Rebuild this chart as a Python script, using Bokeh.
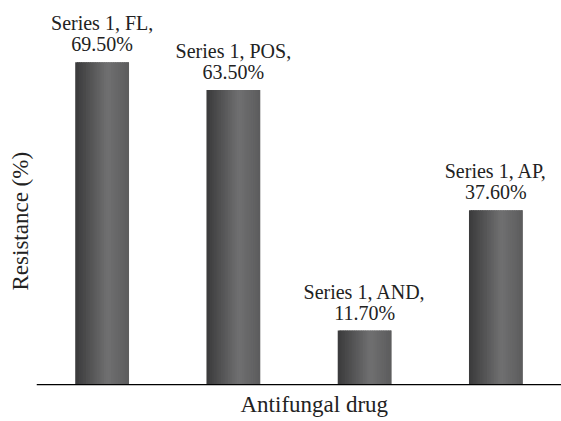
from bokeh.plotting import figure
from bokeh.models import ColumnDataSource, FactorRange, Range1d, LabelSet, Span, Title
from bokeh.transform import dodge
from bokeh.embed import file_html
from bokeh.resources import INLINE

drugs = ["FL", "POS", "AND", "AP"]
resistance = [69.5, 63.5, 11.7, 37.6]
series_name = "Series 1"

line1 = [f"{series_name}, {d}," for d in drugs]
line2 = [f"{v:.2f}%" for v in resistance]
source = ColumnDataSource(data=dict(drug=drugs, val=resistance, l1=line1, l2=line2))

FONT = "Liberation Serif"
TXT = "#222222"

p = figure(
    width=561, height=421,
    x_range=FactorRange(*drugs),
    y_range=Range1d(-0.15, 82.8),
    output_backend="svg", toolbar_location=None,
    min_border_left=36, min_border_right=0,
    min_border_top=0, min_border_bottom=34,
)
p.outline_line_color = None
p.xgrid.visible = False
p.ygrid.visible = False
p.xaxis.visible = False
p.yaxis.visible = False
p.background_fill_color = "white"
p.border_fill_color = "white"

# gradient bars built from narrow strips
bar_w = 0.41
n = 30
def shade(t):
    if t < 0.6:
        g = 0x3a + (0x70 - 0x3a) * (t / 0.6)
    else:
        g = 0x70 - (0x70 - 0x5c) * ((t - 0.6) / 0.4)
    g = int(round(g))
    return "#%02x%02x%02x" % (g, g, g + 1)

sw = bar_w / n
for i in range(n):
    off = -bar_w / 2 + (i + 0.5) * sw
    last = i == n - 1
    w = sw if last else sw * 1.8
    o = off if last else off + sw * 0.4
    p.vbar(x=dodge("drug", o, range=p.x_range), top="val", bottom=0,
           width=w, source=source,
           fill_color=shade((i + 0.5) / n), line_color=None)

# baseline
p.add_layout(Span(location=0, dimension="width", line_color="black", line_width=1.5))

# data labels (two lines)
for col, off in (("l2", 11), ("l1", 32)):
    p.add_layout(LabelSet(x="drug", y="val", text=col, source=source,
                          text_align="center", text_baseline="alphabetic", y_offset=off,
                          text_font=FONT, text_font_size="20px", text_color=TXT))

# axis titles
xt = Title(text="Antifungal drug", align="left", offset=204, standoff=9,
           text_font=FONT, text_font_size="23px", text_font_style="normal", text_color=TXT)
p.add_layout(xt, "below")
yt = Title(text="Resistance (%)", align="left", offset=95, standoff=8,
           text_font=FONT, text_font_size="23px", text_font_style="normal", text_color=TXT)
p.add_layout(yt, "left")

open("out.html", "w").write(file_html(p, INLINE))
